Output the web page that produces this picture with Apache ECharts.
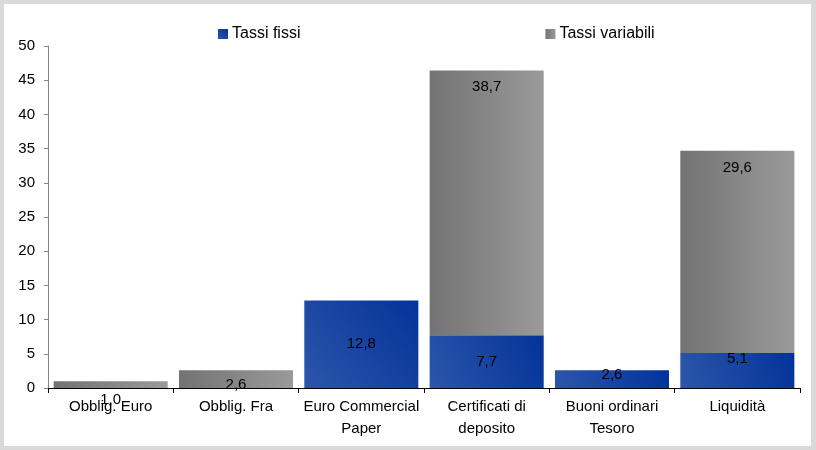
<!DOCTYPE html>
<html>
<head>
<meta charset="utf-8">
<script src="https://cdn.jsdelivr.net/npm/echarts@6/dist/echarts.min.js"></script>
<style>
  html, body { margin: 0; padding: 0; background: #d9d9d9; }
  #main { width: 816px; height: 450px; }
</style>
</head>
<body>
<div id="main"></div>
<script>
var categories = ['Obblig. Euro', 'Obblig. Fra', 'Euro Commercial\nPaper', 'Certificati di\ndeposito', 'Buoni ordinari\nTesoro', 'Liquidità'];
var tassiFissi = [0, 0, 12.8, 7.7, 2.6, 5.1];
var tassiVariabili = [1.0, 2.6, 0, 38.7, 0, 29.6];

// label placement per bar, roughly as in the original
var fissiLabels = [
  null, null,
  { position: 'inside' },
  { position: 'inside' },
  { position: 'insideTop', distance: -3 },
  { position: 'insideTop', distance: -2 }
];
var variabiliLabels = [
  { position: 'bottom', distance: 4 },
  { position: 'inside', offset: [0, 6] },
  null,
  { position: 'insideTop', distance: 9 },
  null,
  { position: 'insideTop', distance: 10 }
];

document.addEventListener('DOMContentLoaded', function() {
  var myChart = echarts.init(document.getElementById('main'));

  var font = 'Liberation Sans, Arial, sans-serif';

  function fmt(p) {
    return p.value ? p.value.toFixed(1).replace('.', ',') : '';
  }

  function build(values, labels) {
    return values.map(function(v, i) {
      var item = { value: v };
      if (labels[i]) item.label = labels[i];
      return item;
    });
  }

  var blue = new echarts.graphic.LinearGradient(0, 1, 1, 0, [
    { offset: 0, color: '#2c56aa' },
    { offset: 1, color: '#03339a' }
  ]);
  var grey = new echarts.graphic.LinearGradient(0, 0, 1, 0, [
    { offset: 0, color: '#737373' },
    { offset: 1, color: '#9a9a9a' }
  ]);

  var option = {
    backgroundColor: '#d9d9d9',
    textStyle: { fontFamily: font },
    animation: false,
    graphic: [{
      type: 'rect',
      z: -10,
      silent: true,
      shape: { x: 4, y: 4, width: 807, height: 442 },
      style: { fill: '#ffffff' }
    }],
    legend: {
      data: ['Tassi fissi', 'Tassi variabili'],
      left: 213,
      top: 21,
      itemWidth: 10,
      itemHeight: 10,
      itemGap: 245,
      icon: 'rect',
      textStyle: { fontSize: 16, color: '#000', padding: [0, 0, 0, -1] }
    },
    grid: { left: 48, right: 16, top: 46, bottom: 62 },
    xAxis: {
      type: 'category',
      data: categories,
      axisLine: { lineStyle: { color: '#000', width: 1 } },
      axisTick: { show: true, length: 5, lineStyle: { color: '#000' } },
      axisLabel: { color: '#000', fontSize: 15, lineHeight: 22, margin: 8, interval: 0 }
    },
    yAxis: {
      type: 'value',
      min: 0,
      max: 50,
      interval: 5,
      splitLine: { show: false },
      axisLine: { show: true, lineStyle: { color: '#868686' } },
      axisTick: { show: true, length: 4, lineStyle: { color: '#868686' } },
      axisLabel: { color: '#000', fontSize: 15, margin: 13 }
    },
    series: [
      {
        name: 'Tassi fissi',
        type: 'bar',
        stack: 'tot',
        barCategoryGap: '9%',
        itemStyle: { color: blue },
        label: { show: true, color: '#000', fontSize: 15, formatter: fmt },
        data: build(tassiFissi, fissiLabels)
      },
      {
        name: 'Tassi variabili',
        type: 'bar',
        stack: 'tot',
        barCategoryGap: '9%',
        itemStyle: { color: grey },
        label: { show: true, color: '#000', fontSize: 15, formatter: fmt },
        data: build(tassiVariabili, variabiliLabels)
      }
    ]
  };

  myChart.setOption(option);
});
</script>
</body>
</html>
